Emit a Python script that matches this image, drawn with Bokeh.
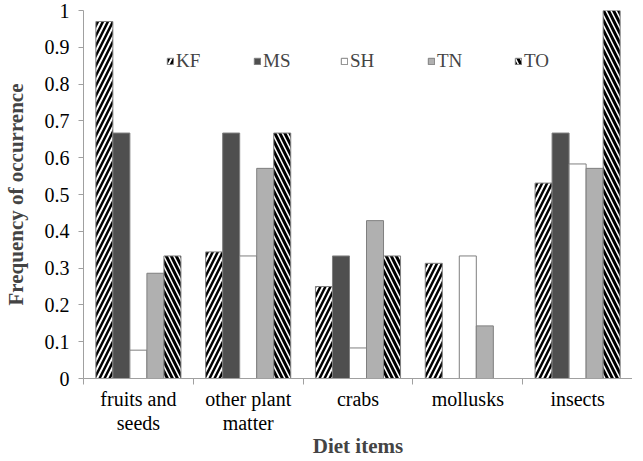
from bokeh.plotting import figure
from bokeh.models import ColumnDataSource, FixedTicker, NumeralTickFormatter, Legend, LegendItem, Range1d
from bokeh.embed import file_html
from bokeh.resources import INLINE

categories = ["fruits and\nseeds", "other plant\nmatter", "crabs", "mollusks", "insects"]
series = ["KF", "MS", "SH", "TN", "TO"]
KF = [0.97, 0.344, 0.25, 0.313, 0.531]
MS = [0.667, 0.667, 0.333, 0.0, 0.667]
SH = [0.077, 0.333, 0.083, 0.333, 0.583]
TN = [0.286, 0.571, 0.429, 0.143, 0.571]
TO = [0.333, 0.667, 0.333, 0.0, 1.0]
values = [KF, MS, SH, TN, TO]
y_ticks = [0, 0.1, 0.2, 0.3, 0.4, 0.5, 0.6, 0.7, 0.8, 0.9, 1.0]

FONT = "Liberation Serif"
styles = {
    "KF": dict(fill_color="white", hatch_pattern="right_diagonal_line", hatch_color="black", hatch_scale=10, hatch_weight=2.5),
    "MS": dict(fill_color="#4f4f4f"),
    "SH": dict(fill_color="white"),
    "TN": dict(fill_color="#b0b0b0"),
    "TO": dict(fill_color="white", hatch_pattern="left_diagonal_line", hatch_color="black", hatch_scale=10, hatch_weight=3),
}

p = figure(width=632, height=460, output_backend="svg", toolbar_location=None,
           x_range=Range1d(0, 5), y_range=Range1d(0, 1),
           min_border_left=74, min_border_right=0, min_border_top=10, min_border_bottom=0)
p.outline_line_color = None
p.xgrid.grid_line_color = None
p.ygrid.grid_line_color = None

bw = 0.155
items = []
for j, (name, vals) in enumerate(zip(series, values)):
    xs = [i + 0.5 + (j - 2) * bw for i in range(len(categories))]
    src = ColumnDataSource(dict(x=xs, top=vals))
    r = p.vbar(x="x", top="top", bottom=0, width=bw, source=src,
               line_color="#7f7f7f", line_width=1, **styles[name])
    items.append(LegendItem(label=name, renderers=[r]))

legend = Legend(items=items, orientation="horizontal", location=(83, 306),
                label_text_font=FONT, label_text_font_size="19px",
                glyph_width=8, glyph_height=8, label_width=67, label_standoff=2,
                spacing=10, padding=0, margin=0,
                border_line_color=None, background_fill_alpha=0)
p.add_layout(legend, "center")

# y axis
p.yaxis.ticker = FixedTicker(ticks=y_ticks)
p.yaxis.formatter = NumeralTickFormatter(format="0.[0]")
p.yaxis.axis_label = "Frequency of occurrence"
p.yaxis.axis_label_text_font = FONT
p.yaxis.axis_label_text_font_style = "bold"
p.yaxis.axis_label_text_font_size = "21px"
p.yaxis.axis_label_standoff = 14
p.yaxis.major_label_text_font = FONT
p.yaxis.major_label_text_font_size = "20px"
p.yaxis.major_label_text_color = "black"
p.yaxis.axis_line_color = "#a0a0a0"
p.yaxis.major_tick_line_color = "#a0a0a0"
p.yaxis.major_tick_in = 0
p.yaxis.major_tick_out = 5
p.yaxis.minor_tick_line_color = None
p.yaxis.major_label_standoff = 9

# x axis
centers = [i + 0.5 for i in range(len(categories))]
p.xaxis.ticker = FixedTicker(ticks=centers, minor_ticks=list(range(len(categories) + 1)))
p.xaxis.major_label_overrides = {c: lab for c, lab in zip(centers, categories)}
p.xaxis.major_tick_line_color = None
p.xaxis.major_tick_out = 0
p.xaxis.major_tick_in = 0
p.xaxis.minor_tick_line_color = "#a0a0a0"
p.xaxis.minor_tick_in = 0
p.xaxis.minor_tick_out = 6
p.xaxis.axis_line_color = "#a0a0a0"
p.xaxis.major_label_text_font = FONT
p.xaxis.major_label_text_font_size = "20px"
p.xaxis.major_label_text_line_height = 1.1
p.xaxis.major_label_text_color = "black"
p.xaxis.major_label_standoff = 3
p.xaxis.axis_label = "Diet items"
p.xaxis.axis_label_text_font = FONT
p.xaxis.axis_label_text_font_style = "bold"
p.xaxis.axis_label_text_font_size = "21px"
p.xaxis.axis_label_standoff = -3

open("out.html", "w").write(file_html(p, INLINE))
